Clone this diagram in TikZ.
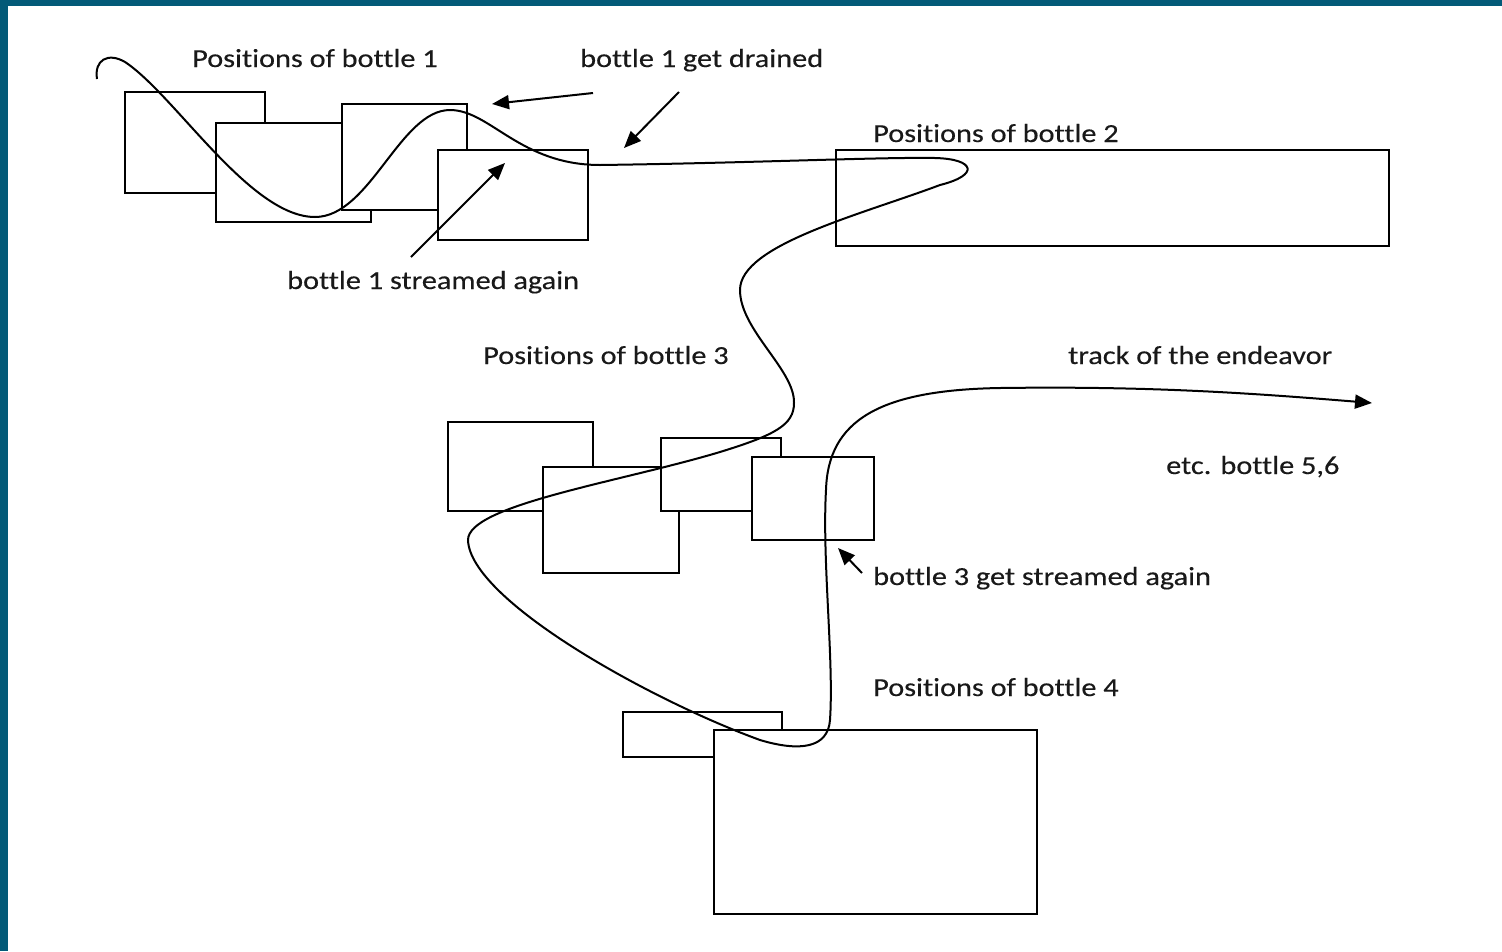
\documentclass[tikz,border=0pt]{standalone}
\usepackage{fontspec}
\setmainfont{Carlito}
\newfontfamily\lblfont[FakeStretch=1.165, FakeBold=0.3, Ligatures={NoCommon}]{Carlito}
\usetikzlibrary{arrows.meta}
\definecolor{frameteal}{RGB}{3,90,120}
\definecolor{inkgray}{RGB}{25,25,25}
\tikzset{
  bottlebox/.style={draw=black, fill=white, line width=2.7pt, inner sep=0pt, outer sep=0pt},
  lbl/.style={anchor=base west, inner sep=0pt, text=inkgray, font=\lblfont\fontsize{26}{30}\selectfont},
  track/.style={draw=black, line width=2pt},
  pointer/.style={draw=black, line width=2pt, -{Triangle[length=17pt,width=14pt]}},
}
\newcommand{\bbox}[5]{%
  \node[bottlebox, minimum width={#4-#2}, minimum height={#5-#3}] (#1) at ({(#2+#4)/2},{(#3+#5)/2}) {};}
\begin{document}
\begin{tikzpicture}[x=1pt,y=-1pt]
\useasboundingbox (0,0) rectangle (1502,951);
\fill[white] (0,0) rectangle (1502,951);
\fill[frameteal] (0,0) rectangle (1502,6);
\fill[frameteal] (0,0) rectangle (8,951);

% bottle 1
\bbox{b1a}{125}{92}{265}{193}
\bbox{b1b}{216}{123}{371}{222}
\bbox{b1c}{342}{104}{467}{210}
\bbox{b1d}{438}{150}{588}{240}
% bottle 2
\bbox{b2}{836}{150}{1389}{246}
% bottle 3
\bbox{b3a}{448}{422}{593}{511}
\bbox{b3b}{543}{467}{679}{573}
\bbox{b3c}{661}{438}{781}{511}
\bbox{b3d}{752}{457}{874}{540}
% bottle 4
\bbox{b4a}{623}{712}{782}{757}
\bbox{b4b}{714}{730}{1037}{914}

% labels
\node[lbl] (l1) at (192,67) {Positions of bottle 1};
\node[lbl] (l2) at (580,67) {bottle 1 get drained};
\node[lbl] (l3) at (873,142) {Positions of bottle 2};
\node[lbl] (l4) at (287,289) {bottle 1 streamed again};
\node[lbl] (l5) at (483,364) {Positions of bottle 3};
\node[lbl] (l6) at (1068,364) {track of the endeavor};
\node[lbl] (l7) at (1166,474) {etc. bottle 5,6};
\node[lbl] (l8) at (873,585) {bottle 3 get streamed again};
\node[lbl] (l9) at (873,696) {Positions of bottle 4};

% track of the endeavor
\coordinate (tstart) at (97,79);
\coordinate (tend) at (1372,403);
\draw[track, -{Triangle[length=17pt,width=14pt]}] (tstart)
  .. controls (94,60) and (108,52) .. (125,62)
  .. controls (175,95) and (250,217) .. (315,217)
  .. controls (370,217) and (400,110) .. (450,110)
  .. controls (490,110) and (520,165) .. (600,165)
  .. controls (750,163) and (880,157) .. (935,158)
  .. controls (975,159) and (980,175) .. (940,185)
  .. controls (860,215) and (740,245) .. (740,290)
  .. controls (740,330) and (795,370) .. (794,403)
  .. controls (794,425) and (775,435) .. (720,452)
  .. controls (620,482) and (468,505) .. (468,540)
  .. controls (470,600) and (650,700) .. (760,740)
  .. controls (800,752) and (828,748) .. (830,720)
  .. controls (834,660) and (822,560) .. (826,490)
  .. controls (828,420) and (880,390) .. (1000,388)
  .. controls (1150,386) and (1250,393) .. (tend);

% pointers
\coordinate (a1s) at (593,93);  \coordinate (a1e) at (492,104);
\coordinate (a2s) at (679,92);  \coordinate (a2e) at (624,148);
\coordinate (a3s) at (411,257); \coordinate (a3e) at (505,163);
\coordinate (a4s) at (862,573); \coordinate (a4e) at (838,548);
\draw[pointer] (a1s) -- (a1e);
\draw[pointer] (a2s) -- (a2e);
\draw[pointer] (a3s) -- (a3e);
\draw[pointer] (a4s) -- (a4e);
\end{tikzpicture}
\end{document}
